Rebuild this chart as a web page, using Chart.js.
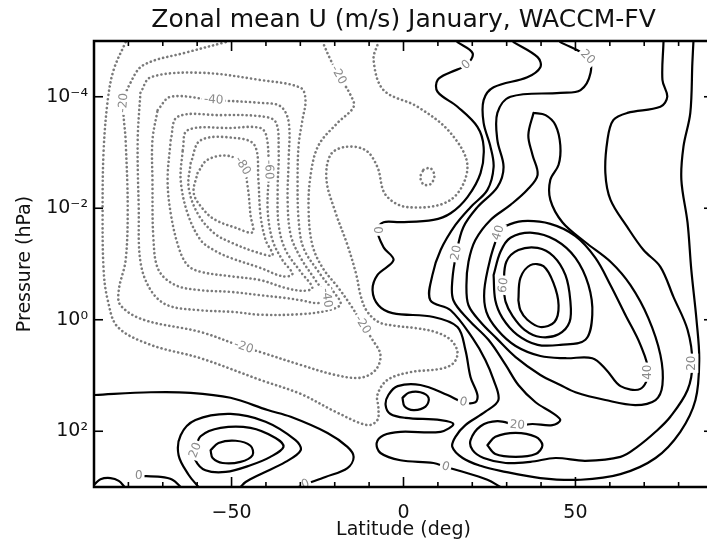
<!DOCTYPE html>
<html>
<head>
<meta charset="utf-8">
<script src="https://cdn.jsdelivr.net/npm/chart.js@4.4.1/dist/chart.umd.min.js"></script>
<style>
  html, body { margin: 0; padding: 0; background: #fff; overflow: hidden; }
  #wrap { width: 707px; height: 547px; overflow: hidden; }
</style>
</head>
<body>
<div id="wrap"><canvas id="chart" width="720" height="547"></canvas></div>
<script>
/* ---------------------------- Data ------------------------------------ */

// axis ticks (latitude in deg, pressure as log10 hPa)
const latLabels = [-50, 0, 50];
const latMinor = [-90, -80, -70, -60, -50, -40, -30, -20, -10, 0, 10, 20, 30, 40, 50, 60, 70, 80, 90];
const presTicks = [-4, -2, 0, 2];

// contour lines, points are [latitude, log10(p / hPa)]
// easterlies (dotted)
const u_m10 = [[-80.8,-4.98],[-84.3,-4.48],[-86.0,-3.94],[-87.2,-3.04],[-87.5,-1.97],[-87.2,-0.89],[-86.0,-0.35],[-83.1,0.13],[-73.5,0.45],[-59.0,0.69],[-41.6,1.08],[-29.9,1.33],[-19.8,1.65],[-10.5,1.89],[-7.6,1.80],[-7.3,1.58],[-7.6,1.35],[-4.7,1.08],[2.0,0.94],[10.8,0.88],[14.5,0.78],[15.7,0.58],[13.7,0.36],[9.3,0.22],[3.5,0.15],[-2.3,0.11],[-7.3,0.04],[-10.8,-0.17],[-12.5,-0.44],[-13.7,-0.80],[-16.3,-1.34],[-19.8,-1.93],[-22.4,-2.51],[-21.2,-2.96],[-16.9,-3.10],[-11.0,-3.04],[-7.6,-2.74],[-5.2,-2.24],[1.2,-2.02],[13.7,-2.15],[18.6,-2.74],[13.7,-3.35],[4.1,-3.82],[-5.8,-4.12],[-8.7,-4.66],[-7.3,-4.98]];
const u_m20 = [[-51.7,-4.98],[-62.8,-4.80],[-75.6,-4.57],[-79.4,-4.25],[-81.4,-3.89],[-80.8,-3.22],[-80.2,-2.02],[-80.8,-1.07],[-82.8,-0.53],[-82.3,-0.26],[-75.6,0.00],[-59.0,0.22],[-46.5,0.49],[-41.6,0.58],[-29.9,0.81],[-19.8,0.99],[-12.5,1.04],[-8.1,0.90],[-6.7,0.63],[-9.0,0.36],[-11.9,0.09],[-14.8,-0.21],[-18.9,-0.57],[-23.5,-0.93],[-26.5,-1.34],[-27.6,-1.97],[-27.0,-2.60],[-24.7,-3.13],[-19.2,-3.53],[-14.5,-3.82],[-15.4,-4.03],[-18.9,-4.39],[-21.2,-4.66],[-23.5,-4.98]];
const u_m20b = [[5.8,-2.69],[7.8,-2.72],[9.0,-2.58],[7.8,-2.43],[5.8,-2.43],[4.9,-2.56],[5.8,-2.69]];
const u_m30 = [[-76.5,-4.07],[-73.5,-4.35],[-59.0,-4.43],[-41.6,-4.30],[-29.9,-4.16],[-28.5,-3.94],[-29.4,-3.58],[-30.5,-3.13],[-30.8,-2.51],[-30.5,-1.79],[-29.1,-1.29],[-24.7,-0.86],[-20.3,-0.50],[-18.3,-0.28],[-21.8,-0.17],[-29.9,-0.10],[-41.6,-0.09],[-49.4,-0.14],[-59.0,-0.17],[-68.6,-0.26],[-73.5,-0.53],[-76.5,-1.04],[-77.0,-2.02],[-77.3,-3.22],[-76.5,-4.07]];
const u_m40 = [[-71.5,-3.76],[-67.7,-4.00],[-55.2,-3.94],[-41.6,-3.89],[-35.8,-3.83],[-33.4,-3.55],[-33.4,-2.87],[-33.7,-2.15],[-32.8,-1.52],[-29.9,-1.11],[-25.6,-0.71],[-22.4,-0.39],[-24.7,-0.30],[-29.9,-0.35],[-34.3,-0.39],[-41.6,-0.44],[-50.3,-0.50],[-59.0,-0.53],[-66.3,-0.62],[-71.2,-0.89],[-72.7,-1.43],[-73.0,-2.51],[-73.0,-3.22],[-71.5,-3.76]];
const u_m50 = [[-67.7,-3.22],[-65.7,-3.64],[-53.2,-3.67],[-41.6,-3.65],[-37.2,-3.55],[-36.3,-3.04],[-36.6,-2.33],[-36.3,-1.70],[-34.3,-1.25],[-29.9,-0.86],[-26.5,-0.57],[-29.4,-0.52],[-34.3,-0.57],[-41.6,-0.71],[-50.3,-0.78],[-59.0,-0.86],[-62.8,-0.98],[-65.4,-1.30],[-67.7,-1.91],[-68.6,-2.51],[-67.7,-3.22]];
const u_m60 = [[-64.2,-3.04],[-62.8,-3.40],[-50.3,-3.44],[-41.6,-3.44],[-39.8,-3.28],[-39.2,-2.69],[-39.5,-1.97],[-38.1,-1.43],[-35.2,-1.07],[-32.3,-0.82],[-35.2,-0.78],[-41.6,-0.93],[-50.3,-1.11],[-55.2,-1.25],[-59.0,-1.43],[-62.8,-1.91],[-64.8,-2.51],[-64.2,-3.04]];
const u_m70 = [[-61.9,-2.81],[-59.0,-3.22],[-48.8,-3.26],[-43.3,-3.13],[-42.2,-2.51],[-41.6,-1.88],[-40.1,-1.43],[-38.1,-1.16],[-42.2,-1.20],[-50.3,-1.39],[-55.2,-1.56],[-59.9,-1.91],[-62.5,-2.38],[-61.9,-2.81]];
const u_m80 = [[-59.9,-2.63],[-57.0,-2.87],[-50.9,-2.94],[-46.8,-2.76],[-45.3,-2.38],[-44.5,-1.88],[-43.9,-1.57],[-48.8,-1.65],[-54.7,-1.79],[-58.1,-1.97],[-61.0,-2.27],[-59.9,-2.63]];

// westerlies and zero line (solid)
const u_0a = [[15.7,-4.98],[20.1,-4.78],[18.3,-4.57],[13.7,-4.44],[9.9,-4.30],[9.9,-4.09],[15.7,-3.82],[21.5,-3.46],[23.3,-3.10],[22.4,-2.63],[18.6,-2.20],[13.7,-1.91],[8.7,-1.79],[-0.9,-1.75],[-5.8,-1.75],[-7.6,-1.61],[-5.8,-1.30],[-2.9,-1.07],[-7.6,-0.80],[-9.0,-0.53],[-7.3,-0.26],[-3.2,-0.12],[8.7,-0.05],[15.7,0.13],[18.0,0.54],[19.5,1.03],[21.5,1.35],[20.9,1.48],[17.4,1.48],[12.8,1.35],[4.9,1.17],[-1.7,1.19],[-4.4,1.35],[-5.2,1.53],[-3.8,1.69],[0.6,1.76],[10.8,1.80],[14.5,1.87],[10.8,2.01],[-0.9,2.01],[-5.8,2.07],[-7.8,2.21],[-6.7,2.39],[-0.9,2.52],[8.7,2.57],[12.2,2.64],[15.7,2.70],[24.4,2.87],[28.2,3.00]];
const u_0b = [[-89.8,1.35],[-73.5,1.30],[-61.9,1.31],[-50.3,1.40],[-39.5,1.62],[-32.8,1.74],[-22.1,2.03],[-16.3,2.28],[-14.5,2.46],[-16.3,2.66],[-22.7,2.82],[-28.5,2.95],[-30.5,3.00]];
const u_0c = [[-89.8,2.95],[-88.1,2.86],[-85.2,2.84],[-82.8,2.89],[-81.1,3.00]];
const u_0d = [[-77.0,2.80],[-70.6,2.82],[-67.2,2.87],[-64.8,3.00]];
const u_10s = [[-59.6,3.00],[-62.5,2.78],[-65.4,2.43],[-64.8,2.07],[-60.5,1.80],[-50.3,1.69],[-40.1,1.83],[-31.4,2.16],[-29.9,2.34],[-34.3,2.55],[-41.6,2.77],[-45.9,2.91],[-47.4,3.00]];
const u_20s = [[-60.5,2.34],[-59.0,2.09],[-53.2,1.94],[-44.5,1.94],[-37.2,2.12],[-34.9,2.28],[-38.7,2.46],[-44.5,2.61],[-51.7,2.73],[-57.6,2.70],[-60.5,2.52],[-60.5,2.34]];
const u_30s = [[-56.1,2.34],[-53.8,2.21],[-48.8,2.17],[-44.5,2.26],[-43.9,2.43],[-47.4,2.55],[-52.6,2.57],[-55.5,2.48],[-56.1,2.34]];
const u_10eq = [[-0.3,1.40],[1.5,1.31],[4.9,1.30],[7.3,1.40],[6.4,1.56],[2.9,1.62],[0.3,1.55],[-0.3,1.40]];
const u_10n = [[32.0,-4.98],[39.0,-4.71],[39.8,-4.53],[36.0,-4.35],[26.2,-4.17],[23.3,-3.94],[23.3,-3.53],[25.3,-3.10],[26.2,-2.74],[24.4,-2.33],[19.5,-2.02],[15.1,-1.70],[10.8,-1.25],[8.4,-0.80],[7.8,-0.35],[13.7,-0.17],[20.1,0.33],[23.8,0.72],[26.2,1.08],[27.6,1.44],[23.8,1.65],[18.0,1.89],[15.1,2.10],[14.2,2.28],[17.2,2.48],[22.4,2.62],[28.2,2.71],[39.8,2.84],[51.5,2.87],[63.1,2.77],[73.3,2.48],[80.5,2.01],[84.9,1.44],[86.0,0.72],[85.2,0.00],[83.7,-0.89],[82.6,-1.74],[80.8,-2.51],[81.4,-3.10],[83.4,-3.71],[84.0,-4.61],[84.3,-4.98]];
const u_20n = [[45.6,-4.98],[53.5,-4.71],[54.4,-4.43],[51.5,-4.12],[45.6,-4.07],[31.1,-4.00],[27.3,-3.71],[27.3,-3.22],[29.1,-2.74],[27.3,-2.38],[21.5,-2.02],[17.4,-1.66],[15.4,-1.20],[14.2,-0.71],[14.5,-0.35],[18.9,0.00],[24.7,0.36],[29.7,0.81],[33.4,1.17],[38.4,1.48],[43.3,1.67],[45.6,1.80],[43.3,1.89],[37.5,1.87],[33.1,1.89],[27.3,1.82],[22.4,1.91],[19.5,2.16],[20.1,2.34],[23.3,2.48],[29.7,2.57],[36.9,2.55],[44.2,2.48],[52.9,2.53],[63.1,2.46],[68.0,2.28],[73.3,2.01],[77.6,1.74],[82.6,1.26],[84.0,0.78],[82.6,0.18],[78.5,-0.41],[74.7,-0.95],[69.8,-1.25],[65.1,-1.66],[60.2,-2.15],[58.7,-2.63],[59.3,-3.22],[61.0,-3.58],[65.1,-3.71],[74.7,-3.82],[76.7,-4.00],[75.3,-4.30],[75.6,-4.98]];
const u_30t = [[24.4,2.25],[26.7,2.10],[32.6,2.03],[38.4,2.10],[40.4,2.25],[38.4,2.41],[32.6,2.46],[26.7,2.41],[24.4,2.25]];
const u_30n = [[37.8,-3.71],[41.3,-3.67],[44.2,-3.49],[45.6,-3.13],[45.1,-2.78],[42.7,-2.51],[42.7,-2.15],[46.2,-1.75],[52.9,-1.39],[60.2,-1.04],[66.0,-0.62],[71.2,-0.03],[74.7,0.63],[75.3,1.17],[73.3,1.44],[67.4,1.53],[58.7,1.44],[50.0,1.30],[45.6,1.17],[39.8,0.99],[32.6,0.67],[27.0,0.33],[22.4,0.04],[18.9,-0.26],[18.3,-0.62],[18.9,-1.04],[20.9,-1.43],[25.3,-1.79],[31.1,-2.06],[36.0,-2.33],[39.0,-2.60],[37.5,-2.96],[36.3,-3.31],[37.8,-3.71]];
const u_40n = [[27.6,-1.56],[25.3,-1.11],[23.5,-0.53],[24.1,-0.14],[27.3,0.18],[32.6,0.47],[39.8,0.65],[47.1,0.69],[54.9,0.69],[59.0,0.90],[63.1,1.19],[68.9,1.24],[71.2,0.94],[68.9,0.45],[64.5,-0.09],[60.2,-0.62],[55.8,-1.11],[50.0,-1.50],[42.7,-1.72],[34.6,-1.77],[29.7,-1.68],[27.6,-1.56]];
const u_50n = [[26.2,-0.80],[28.2,-1.22],[31.1,-1.47],[37.5,-1.56],[44.2,-1.43],[50.0,-1.11],[53.8,-0.62],[54.9,-0.09],[52.9,0.36],[45.6,0.45],[39.0,0.45],[33.1,0.27],[28.8,-0.03],[26.7,-0.35],[26.2,-0.80]];
const u_60n = [[29.1,-0.62],[29.9,-1.04],[33.4,-1.25],[39.0,-1.29],[43.6,-1.14],[47.1,-0.80],[48.5,-0.35],[48.3,0.04],[45.1,0.26],[39.8,0.31],[35.2,0.18],[31.7,-0.07],[29.7,-0.32],[29.1,-0.62]];
const u_70n = [[33.4,-0.35],[34.0,-0.75],[36.9,-0.98],[40.7,-0.96],[43.6,-0.66],[45.1,-0.26],[43.9,0.04],[39.8,0.13],[36.0,0.00],[34.0,-0.17],[33.4,-0.35]];

// level of each line, and which of its points carry a label
const contours = [
  { lev: -10, pts: u_m10,  lab: [] },
  { lev: -20, pts: u_m20,  lab: [4, 12, 20, 31] },
  { lev: -20, pts: u_m20b, lab: [] },
  { lev: -30, pts: u_m30,  lab: [] },
  { lev: -40, pts: u_m40,  lab: [2, 11] },
  { lev: -50, pts: u_m50,  lab: [] },
  { lev: -60, pts: u_m60,  lab: [5] },
  { lev: -70, pts: u_m70,  lab: [] },
  { lev: -80, pts: u_m80,  lab: [3] },
  { lev: 0,   pts: u_0a,   lab: [2, 15, 28, 45] },
  { lev: 0,   pts: u_0b,   lab: [11] },
  { lev: 0,   pts: u_0c,   lab: [] },
  { lev: 0,   pts: u_0d,   lab: [0] },
  { lev: 10,  pts: u_10s,  lab: [] },
  { lev: 20,  pts: u_20s,  lab: [0] },
  { lev: 30,  pts: u_30s,  lab: [] },
  { lev: 10,  pts: u_10eq, lab: [] },
  { lev: 10,  pts: u_10n,  lab: [] },
  { lev: 20,  pts: u_20n,  lab: [1, 12, 24, 39] },
  { lev: 30,  pts: u_30t,  lab: [] },
  { lev: 30,  pts: u_30n,  lab: [] },
  { lev: 40,  pts: u_40n,  lab: [0, 12] },
  { lev: 50,  pts: u_50n,  lab: [] },
  { lev: 60,  pts: u_60n,  lab: [0] },
  { lev: 70,  pts: u_70n,  lab: [] }
];

/* ---------------------------- Plugins ------------------------------------ */

const FONT = '"DejaVu Sans", sans-serif';
const sup = { '-': '\u207B', '0': '\u2070', '1': '\u00B9', '2': '\u00B2', '3': '\u00B3', '4': '\u2074', '5': '\u2075' };

// frame and inward ticks
const frame = {
  id: 'frame',
  afterDraw(chart) {
    const { ctx, chartArea: { left, right, top, bottom }, scales: { x, y } } = chart;
    const seg = (x1, y1, x2, y2) => { ctx.beginPath(); ctx.moveTo(x1, y1); ctx.lineTo(x2, y2); ctx.stroke(); };
    ctx.save();
    ctx.strokeStyle = '#000';
    ctx.lineWidth = 1.6;
    latMinor.forEach(v => {
      const px = x.getPixelForValue(v);
      const len = latLabels.includes(v) ? 10 : 5;
      seg(px, bottom, px, bottom - len);
      seg(px, top, px, top + len);
    });
    presTicks.forEach(v => {
      const py = y.getPixelForValue(v);
      seg(left, py, left + 9, py);
      seg(right, py, right - 9, py);
    });
    ctx.lineWidth = 2.5;
    ctx.strokeRect(left, top, right - left, bottom - top);
    ctx.restore();
  }
};

// contour value labels, turned along the line
const contourLabels = {
  id: 'contourLabels',
  afterDatasetsDraw(chart) {
    const { ctx, chartArea, scales: { x, y } } = chart;
    ctx.save();
    ctx.beginPath();
    ctx.rect(chartArea.left, chartArea.top, chartArea.width, chartArea.height);
    ctx.clip();
    ctx.font = '12px ' + FONT;
    ctx.textAlign = 'center';
    ctx.textBaseline = 'middle';
    contours.forEach(c => c.lab.forEach(i => {
      const p = c.pts[i];
      const a = c.pts[Math.max(i - 1, 0)];
      const b = c.pts[Math.min(i + 1, c.pts.length - 1)];
      let ang = Math.atan2(y.getPixelForValue(b[1]) - y.getPixelForValue(a[1]),
                           x.getPixelForValue(b[0]) - x.getPixelForValue(a[0]));
      if (ang > Math.PI / 2) ang -= Math.PI;
      if (ang < -Math.PI / 2) ang += Math.PI;
      const txt = String(c.lev);
      ctx.save();
      ctx.translate(x.getPixelForValue(p[0]), y.getPixelForValue(p[1]));
      ctx.rotate(ang);
      const w = ctx.measureText(txt).width + 4;
      ctx.fillStyle = '#fff';
      ctx.fillRect(-w / 2, -6, w, 12);
      ctx.fillStyle = '#8a8a8a';
      ctx.fillText(txt, 0, 0);
      ctx.restore();
    }));
    ctx.restore();
  }
};

/* ---------------------------- Chart ------------------------------------ */

const datasets = contours.map(c => ({
  data: c.pts.map(p => ({ x: p[0], y: p[1] })),
  showLine: true,
  pointRadius: 0,
  borderWidth: c.lev < 0 ? 2.6 : 2.2,
  borderColor: c.lev < 0 ? '#7a7a7a' : '#000',
  borderDash: c.lev < 0 ? [0.1, 4.2] : [],
  borderCapStyle: 'round',
  tension: 0.35
}));

const ctx = document.getElementById('chart').getContext('2d');
const myChart = new Chart(ctx, {
  type: 'scatter',
  data: { datasets },
  options: {
    responsive: false,
    animation: false,
    devicePixelRatio: 1,
    layout: { padding: { left: 0, right: 7, top: 0, bottom: 0 } },
    plugins: {
      legend: { display: false },
      tooltip: { enabled: false },
      title: {
        display: true,
        fullSize: false,
        text: 'Zonal mean U (m/s) January, WACCM-FV',
        color: '#111',
        font: { family: FONT, size: 25, weight: 'normal', lineHeight: 1.2 },
        padding: { top: 5, bottom: 6 }
      }
    },
    scales: {
      x: {
        type: 'linear',
        min: -90,
        max: 90,
        grid: { display: false, drawTicks: false },
        border: { display: false },
        afterBuildTicks: s => { s.ticks = latLabels.map(v => ({ value: v })); },
        afterFit: s => { s.height = 60; },
        ticks: {
          color: '#111',
          padding: 15,
          maxRotation: 0,
          font: { family: FONT, size: 19 },
          callback: v => (v < 0 ? '\u2212' + Math.abs(v) : String(v))
        },
        title: {
          display: true,
          text: 'Latitude (deg)',
          color: '#111',
          font: { family: FONT, size: 19 },
          padding: { top: 0, bottom: 6 }
        }
      },
      y: {
        type: 'linear',
        min: -5,
        max: 3,
        reverse: true,
        grid: { display: false, drawTicks: false },
        border: { display: false },
        afterBuildTicks: s => { s.ticks = presTicks.map(v => ({ value: v })); },
        afterFit: s => { s.width = 94; },
        ticks: {
          color: '#111',
          padding: 6,
          font: { family: FONT, size: 19 },
          callback: v => '10' + String(v).split('').map(ch => sup[ch]).join('')
        },
        title: {
          display: true,
          text: 'Pressure (hPa)',
          color: '#111',
          font: { family: FONT, size: 19 },
          padding: { top: 14, bottom: 0 }
        }
      }
    }
  },
  plugins: [contourLabels, frame]
});
</script>
</body>
</html>
